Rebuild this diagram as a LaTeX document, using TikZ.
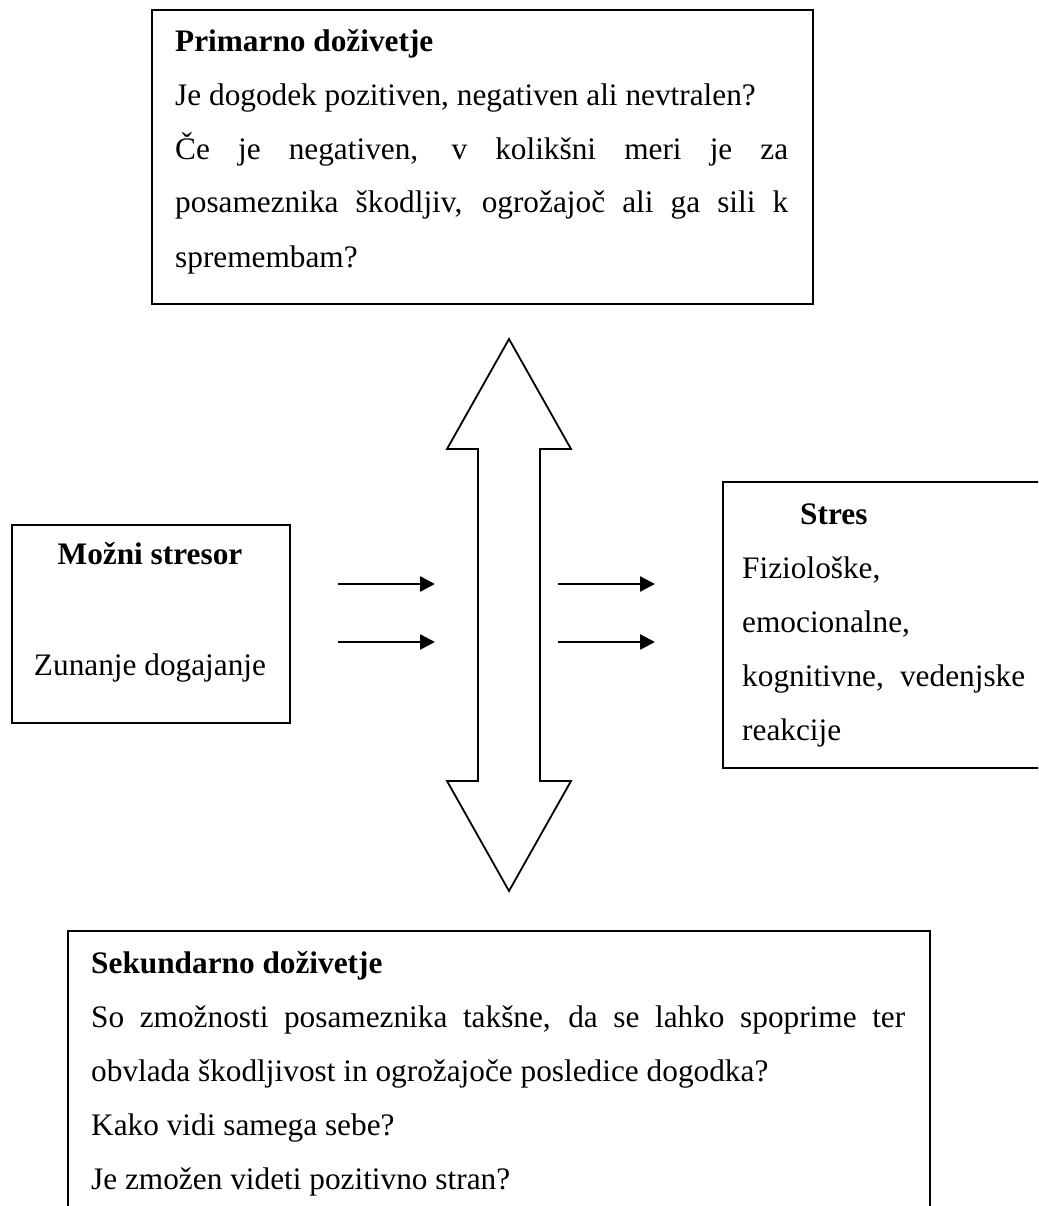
\documentclass[tikz,border=0pt]{standalone}
\usepackage{fontspec}
\setmainfont{Liberation Serif}
\usetikzlibrary{arrows.meta}
\begin{document}
\begin{tikzpicture}[x=1pt,y=-1pt,
  box/.style={draw, line width=1.8pt, inner sep=0pt, anchor=north west},
  txt/.style={anchor=base west, inner sep=0pt, font=\fontsize{31.3}{54}\selectfont},
  ttl/.style={anchor=base west, inner sep=0pt, font=\fontsize{31.3}{54}\selectfont\bfseries},
  arr/.style={line width=2.5pt, -{Triangle[length=15pt,width=15pt]}},
  dbl/.style={draw, line width=1.8pt, line join=miter}]
\useasboundingbox (0,0) rectangle (1038,1206);
\clip (0,0) rectangle (1038,1206);
% top box
\node[box, minimum width=661pt, minimum height=294pt] (prim) at (151,9) {};
\node[ttl] (primT) at (175,52) {Primarno doživetje};
\node[txt] (prim1) at (175,106) {Je dogodek pozitiven, negativen ali nevtralen?};
\node[txt] (prim2) at (175,160) {\hbox to 613pt{Če je negativen, v kolikšni meri je za}};
\node[txt] (prim3) at (175,213) {\hbox to 613pt{posameznika škodljiv, ogrožajoč ali ga sili k}};
\node[txt] (prim4) at (175,267) {spremembam?};
% double arrow
\path[dbl] (509,339) -- (571,449) -- (540,449) -- (540,781) -- (571,781) -- (509,891)
  -- (447,781) -- (478,781) -- (478,449) -- (447,449) -- cycle;
% left box
\node[box, minimum width=278pt, minimum height=198pt] (mozni) at (11,524) {};
\node[ttl, anchor=base] (mozniT) at (150,564) {Možni stresor};
\node[txt, anchor=base] (mozni1) at (150,675) {Zunanje dogajanje};
% arrows
\coordinate (l1s) at (338,584); \coordinate (l1e) at (435,584);
\coordinate (l2s) at (338,642); \coordinate (l2e) at (435,642);
\coordinate (r1s) at (558,584); \coordinate (r1e) at (655,584);
\coordinate (r2s) at (558,642); \coordinate (r2e) at (655,642);
\draw[arr] (l1s) -- (l1e);
\draw[arr] (l2s) -- (l2e);
\draw[arr] (r1s) -- (r1e);
\draw[arr] (r2s) -- (r2e);
% stres box
\node[box, minimum width=340pt, minimum height=286pt] (stres) at (722,481) {};
\node[ttl] (stresT) at (800,524) {Stres};
\node[txt] (stres1) at (742,578) {Fiziološke,};
\node[txt] (stres2) at (742,632) {emocionalne,};
\node[txt] (stres3) at (742,686) {\hbox to 283pt{kognitivne, vedenjske}};
\node[txt] (stres4) at (742,740) {reakcije};
% bottom box
\node[box, minimum width=862pt, minimum height=320pt] (sek) at (67,930) {};
\node[ttl] (sekT) at (91,973) {Sekundarno doživetje};
\node[txt] (sek1) at (91,1027) {\hbox to 814pt{So zmožnosti posameznika takšne, da se lahko spoprime ter}};
\node[txt] (sek2) at (91,1081) {obvlada škodljivost in ogrožajoče posledice dogodka?};
\node[txt] (sek3) at (91,1135) {Kako vidi samega sebe?};
\node[txt] (sek4) at (91,1189) {Je zmožen videti pozitivno stran?};
\end{tikzpicture}
\end{document}
